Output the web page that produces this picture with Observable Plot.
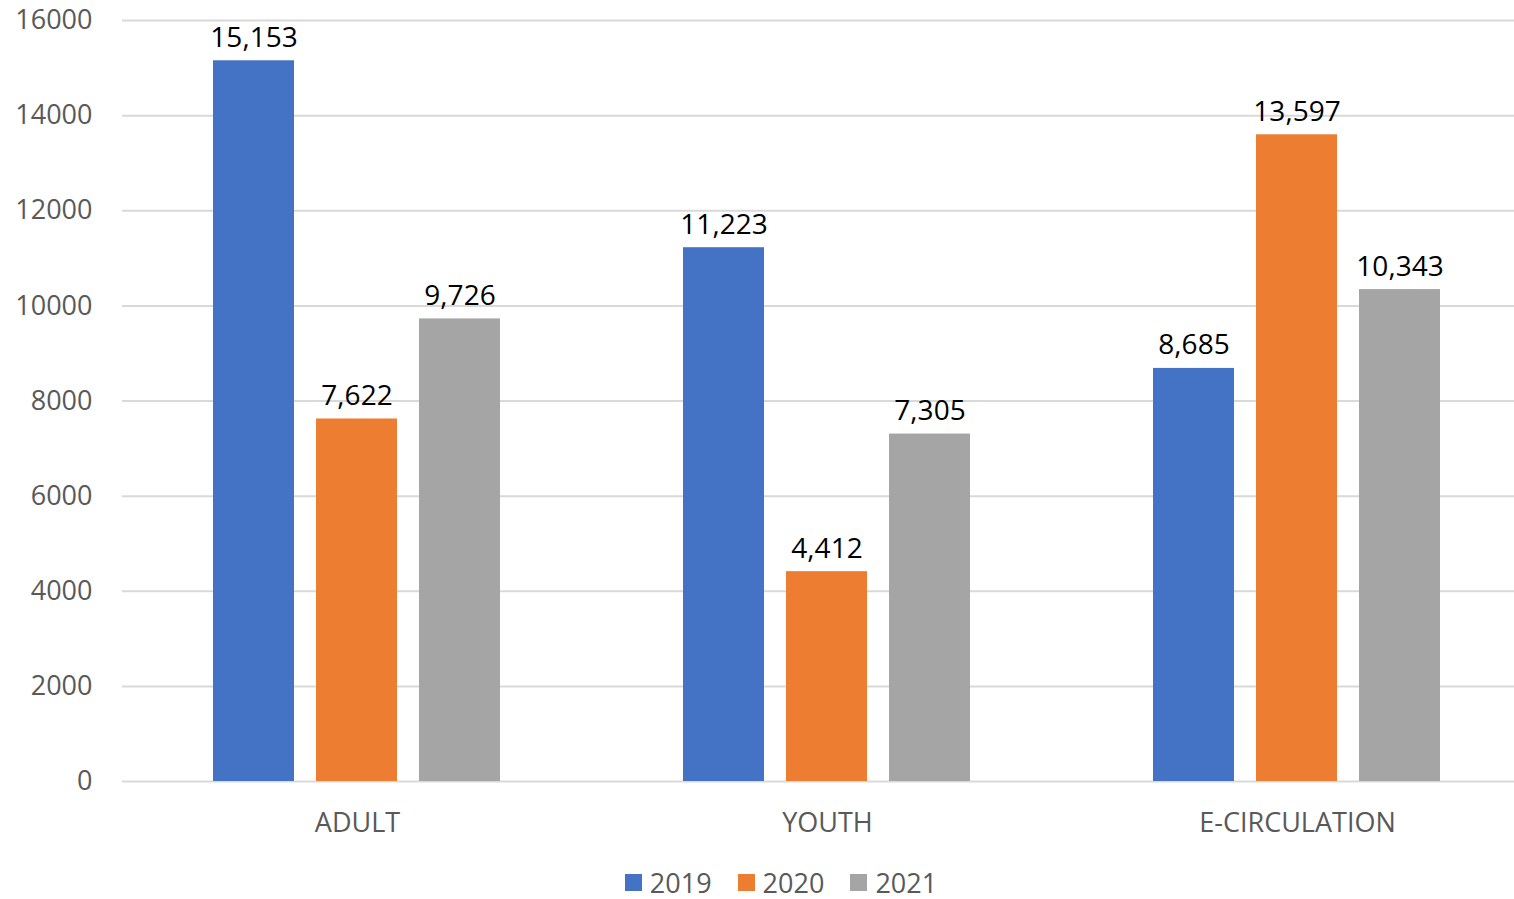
<!DOCTYPE html>
<html>
<head>
<meta charset="utf-8">
<script src="https://cdn.jsdelivr.net/npm/d3@7"></script>
<script src="https://cdn.jsdelivr.net/npm/@observablehq/plot@0.6"></script>
<style>
  html, body { margin: 0; padding: 0; background: #fff; overflow: hidden; }
  body { width: 1514px; font-family: "Open Sans", sans-serif; }
  #chart { width: 1514px; height: 845px; overflow: hidden; }
  #chart svg { max-width: none !important; width: 1532px !important; height: 845px !important; }
  #legend { display: flex; justify-content: center; align-items: center; gap: 26px; height: 34px; margin-left: 48px; margin-top: 20px; font-size: 27px; line-height: 1; color: #595959; }
  .item { display: flex; align-items: center; gap: 8px; }
  .sw { width: 17px; height: 17px; display: inline-block; }
</style>
</head>
<body>
<div id="chart"></div>
<div id="legend"></div>
<script>
const categories = ["ADULT", "YOUTH", "E-CIRCULATION"];
const years = ["2019", "2020", "2021"];
const values2019 = [15153, 11223, 8685];
const values2020 = [7622, 4412, 13597];
const values2021 = [9726, 7305, 10343];
const colors = ["#4472C4", "#ED7D31", "#A5A5A5"];
const yTicks = [0, 2000, 4000, 6000, 8000, 10000, 12000, 14000, 16000];

const series = [values2019, values2020, values2021];
const data = [];
categories.forEach((c, i) => {
  years.forEach((y, j) => data.push({category: c, year: y, value: series[j][i]}));
});

const fmt = d3.format(",");
const chart = Plot.plot({
  width: 1532,
  height: 845,
  marginTop: 20,
  marginBottom: 64,
  marginLeft: 122,
  marginRight: 0,
  style: {fontFamily: "'Open Sans', sans-serif", background: "#fff"},
  fx: {domain: categories, padding: 0, axis: "bottom", label: null, tickSize: 0, tickPadding: 31},
  x: {domain: years, paddingInner: 0.21, paddingOuter: 0.865, axis: null},
  y: {domain: [0, 16000], ticks: yTicks, tickFormat: d => String(d), label: null, tickSize: 0, tickPadding: 30},
  color: {domain: years, range: colors},
  marks: [
    Plot.gridY(yTicks, {stroke: "#d9d9d9", strokeOpacity: 1, strokeWidth: 2}),
    Plot.barY(data, {fx: "category", x: "year", y: "value", fill: "year"}),
    Plot.text(data, {fx: "category", x: "year", y: "value", text: d => fmt(d.value), dy: -23, fill: "#000", fontSize: 28})
  ]
});
d3.select(chart).selectAll("g[aria-label='y-axis tick label'], g[aria-label='fx-axis tick label']")
  .attr("fill", "#595959").attr("font-size", 27);
document.getElementById("chart").appendChild(chart);

const legend = document.getElementById("legend");
years.forEach((y, i) => {
  const it = document.createElement("div");
  it.className = "item";
  it.innerHTML = `<span class="sw" style="background:${colors[i]}"></span><span>${y}</span>`;
  legend.appendChild(it);
});
</script>
</body>
</html>
